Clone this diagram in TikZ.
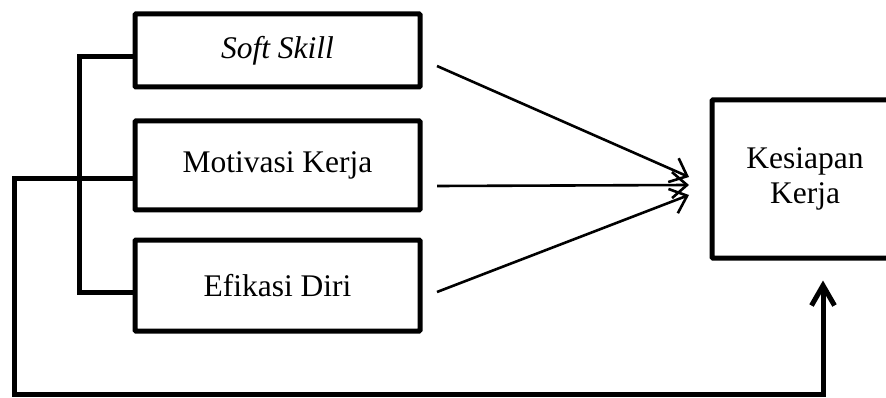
\documentclass[tikz,border=0pt]{standalone}
\usepackage{fontspec}
\setmainfont{Liberation Serif}
\usetikzlibrary{arrows.meta}
\begin{document}
\begin{tikzpicture}[x=1pt,y=-1pt,
  varbox/.style={draw,line width=5pt,rounded corners=1pt,inner sep=0pt,font=\fontsize{31.5}{29}\selectfont,align=center},
  thick line/.style={line width=5pt},
  thin arrow/.style={line width=2.6pt,-{Straight Barb[length=15pt,width=26pt,line width=2.6pt]}},
  up arrow/.style={line width=5pt,-{Straight Barb[length=20pt,width=23pt,line width=5pt]}}]
\useasboundingbox (0,0) rectangle (886,398);
\clip (0,0) rectangle (886,398);
\node[varbox,minimum width=285pt,minimum height=73pt] (ss) at (277.5,50.5) {\textit{Soft Skill}};
\node[varbox,minimum width=285pt,minimum height=89pt] (mk) at (277.5,165.5) {Motivasi Kerja};
\node[varbox,minimum width=285pt,minimum height=91pt] (ed) at (277.5,285.5) {Efikasi Diri};
\node[varbox,minimum width=186pt,minimum height=158pt] (kk) at (805,179) {Kesiapan\\[6pt]Kerja};
% bracket
\coordinate (bt) at (79,57);
\coordinate (bb) at (79,292);
\coordinate (lm) at (14,179);
\coordinate (lb) at (14,394);
\coordinate (rb) at (823,394);
\draw[thick line] (ss.west |- bt) -- (bt) -- (bb) -- (ed.west |- bb);
\draw[up arrow] (mk.west |- lm) -- (lm) -- (lb) -- (rb) -- ([yshift=-20pt]rb |- kk.south);
% arrows
\coordinate (s1) at (437,66);
\coordinate (s2) at (437,186);
\coordinate (s3) at (437,292);
\coordinate (t1) at (689,177);
\coordinate (t2) at (689,185);
\coordinate (t3) at (689,195);
\draw[thin arrow] (s1) -- (t1);
\draw[thin arrow] (s2) -- (t2);
\draw[thin arrow] (s3) -- (t3);
\end{tikzpicture}
\end{document}
